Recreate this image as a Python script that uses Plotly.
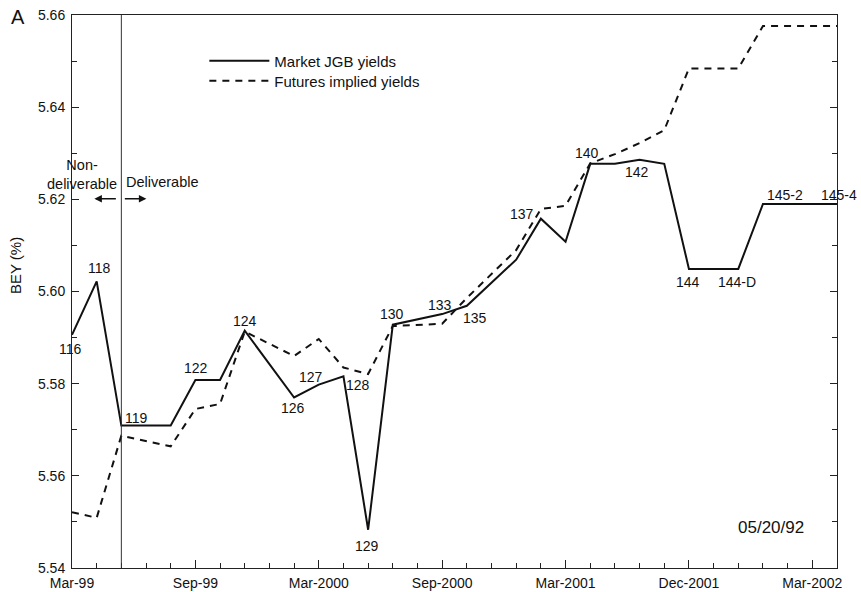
import plotly.graph_objects as go

# x position index of each bond (ticks every index, labels every 5)
positions = [0, 1, 2, 4, 5, 6, 7, 9, 10, 11, 12, 13, 15, 16, 18, 19, 20, 21, 22, 23, 24, 25, 27, 28, 31]
market_jgb = [5.5906, 5.6022, 5.5709, 5.5709, 5.5808, 5.5808, 5.5915, 5.5770, 5.5798, 5.5816,
              5.5483, 5.5928, 5.5951, 5.5969, 5.6069, 5.6158, 5.6108, 5.6277, 5.6277, 5.6286,
              5.6277, 5.6049, 5.6049, 5.6190, 5.6190]
futures_implied = [5.5521, 5.5509, 5.5687, 5.5664, 5.5745, 5.5756, 5.5913, 5.5860, 5.5897, 5.5835,
                   5.5821, 5.5925, 5.5930, 5.5986, 5.6090, 5.6179, 5.6186, 5.6278, 5.6298, 5.6322,
                   5.6350, 5.6484, 5.6484, 5.6576, 5.6576]
bond_labels = ["116", "118", "119", None, "122", None, "124", "126", "127", "128",
               "129", "130", "133", "135", None, "137", None, "140", None, "142",
               None, "144", "144-D", "145-2", "145-4"]
# label offsets (px) from the point
label_dx = [-2, 3, 15, 0, 1, 0, 0, -1, -8, 15, -1, -1, -2, 8, 0, -19, 0, -3, 0, -3, 0, -1, -1, 22, 2]
label_dy = [-14, 13, 8, 0, 12, 0, 10, -11, 8, -9, -16, 11, 9, -12, 0, 5, 0, 11, 0, -12, 0, -13, -13, 9, 9]

tick_positions = [0, 5, 10, 15, 20, 25, 30]
tick_labels = ["Mar-99", "Sep-99", "Mar-2000", "Sep-2000", "Mar-2001", "Dec-2001", "Mar-2002"]
deliverable_start = 2

FONT = "Liberation Sans, Arial, Helvetica, sans-serif"
INK = "#111111"

fig = go.Figure()
fig.add_trace(go.Scatter(x=positions, y=market_jgb, mode="lines", name="Market JGB yields",
                         line=dict(color=INK, width=2), legend="legend"))
fig.add_trace(go.Scatter(x=positions, y=futures_implied, mode="lines", name="Futures implied yields",
                         line=dict(color=INK, width=2, dash="7px,6px"), legend="legend2"))

for xv, yv, lab, dx, dy in zip(positions, market_jgb, bond_labels, label_dx, label_dy):
    if lab:
        fig.add_annotation(x=xv, y=yv, text=lab, showarrow=False, xshift=dx, yshift=dy,
                           font=dict(size=14, color=INK, family=FONT))

# deliverable boundary
fig.add_shape(type="line", x0=deliverable_start, x1=deliverable_start, y0=0, y1=1,
              xref="x", yref="paper", line=dict(color="#333333", width=1))
fig.add_annotation(x=deliverable_start, y=5.6254, text="Non-<br>deliverable", showarrow=False,
                   xanchor="right", yanchor="middle", align="center", xshift=-2,
                   font=dict(size=14.5, color=INK, family=FONT))
fig.add_annotation(x=deliverable_start, y=5.6237, text="Deliverable", showarrow=False,
                   xanchor="left", yanchor="middle", xshift=3,
                   font=dict(size=14.5, color=INK, family=FONT))
fig.add_annotation(x=deliverable_start, y=5.6201, text="", showarrow=True, xshift=-27,
                   ax=23, ay=0, arrowhead=2, arrowsize=1, arrowwidth=1.5, arrowcolor=INK)
fig.add_annotation(x=deliverable_start, y=5.6201, text="", showarrow=True, xshift=25,
                   ax=-23, ay=0, arrowhead=2, arrowsize=1, arrowwidth=1.5, arrowcolor=INK)

fig.add_annotation(x=28.32, y=5.5487, text="05/20/92", showarrow=False,
                   font=dict(size=17, color=INK, family=FONT))
fig.add_annotation(xref="paper", yref="paper", x=-0.0702, y=0.996, text="A", showarrow=False,
                   xanchor="center", yanchor="middle", font=dict(size=20, color=INK, family=FONT))
fig.add_annotation(xref="paper", yref="paper", x=-0.0745, y=0.546, text="BEY (%)", showarrow=False,
                   textangle=-90, xanchor="center", yanchor="middle",
                   font=dict(size=15, color=INK, family=FONT))

legend_common = dict(xanchor="left", yanchor="middle", bgcolor="rgba(0,0,0,0)",
                     font=dict(size=15, family=FONT, color=INK), itemwidth=60)
fig.update_layout(
    width=861, height=592,
    margin=dict(l=72, r=24, t=15, b=24),
    plot_bgcolor="white", paper_bgcolor="white",
    font=dict(family=FONT, size=14, color=INK),
    showlegend=True,
    legend=dict(x=0.173, y=0.9168, **legend_common),
    legend2=dict(x=0.173, y=0.8807, **legend_common),
)
fig.update_xaxes(range=[0, 31], tickmode="array", tickvals=tick_positions, ticktext=tick_labels,
                 ticks="inside", ticklen=8, tickwidth=1, tickcolor="#222222",
                 minor=dict(dtick=1, ticks="inside", ticklen=5, tickcolor="#222222", showgrid=False),
                 showline=True, linecolor="#222222", linewidth=1, mirror=True, automargin=False,
                 showgrid=False, zeroline=False, tickfont=dict(size=14), ticklabelstandoff=2)
fig.update_yaxes(range=[5.54, 5.66], dtick=0.02, tickformat=".2f",
                 ticks="inside", ticklen=7, tickwidth=1, tickcolor="#222222",
                 minor=dict(dtick=0.01, ticks="inside", ticklen=5, tickcolor="#222222", showgrid=False),
                 showline=True, linecolor="#222222", linewidth=1, mirror="ticks", automargin=False,
                 showgrid=False, zeroline=False, tickfont=dict(size=14), ticklabelstandoff=3)

# remove the default page margin so the 861x592 figure fills the window exactly; hide the modebar
fig.write_html("out.html", config={"displayModeBar": False},
               post_script="document.body.style.margin='0';document.body.style.overflow='hidden';")
